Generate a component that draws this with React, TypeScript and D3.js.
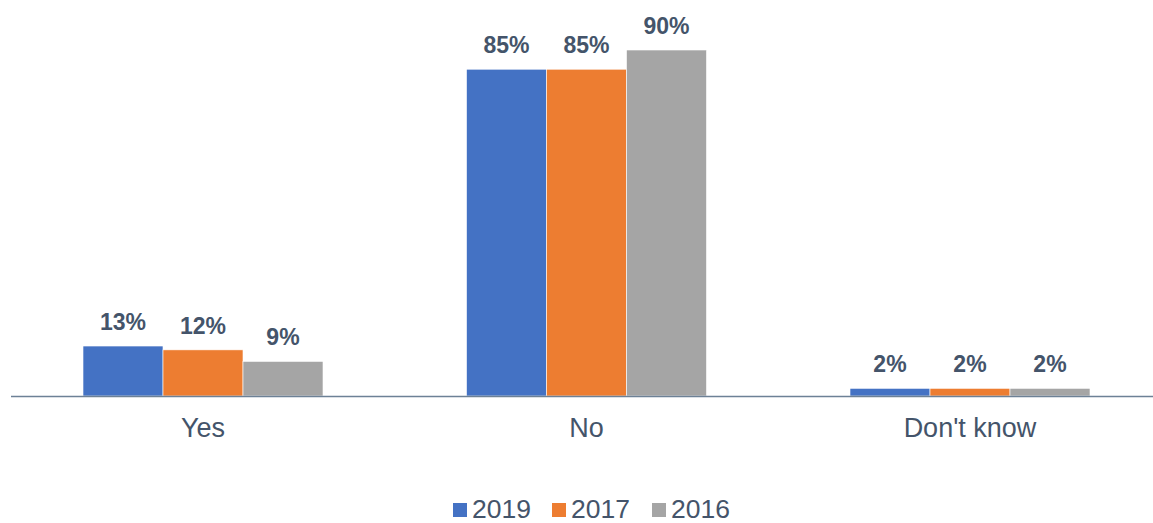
import { useRef, useEffect } from 'react';
import * as d3 from 'd3';

const categories = ['Yes', 'No', "Don't know"];
const seriesNames = ['2019', '2017', '2016'];
const values2019 = [13, 85, 2];
const values2017 = [12, 85, 2];
const values2016 = [9, 90, 2];
const colors = ['#4472c4', '#ed7d31', '#a5a5a5'];

export default function App() {
  const svgRef = useRef<SVGSVGElement>(null);

  useEffect(() => {
    if (!svgRef.current) return;
    const el = svgRef.current;
    d3.select(el).selectAll('*').remove();
    const svg = d3.select(el);

    const W = 1153;
    const baseline = 396;
    const textColor = '#44546a';
    const font = '"Liberation Sans", Arial, sans-serif';

    const series = [values2019, values2017, values2016];

    const x0 = d3.scaleBand<string>().domain(categories).range([11.25, 1161.75])
      .paddingInner(0.3742).paddingOuter(0.1871);
    const x1 = d3.scaleBand<string>().domain(seriesNames).range([0, x0.bandwidth()]).padding(0);
    const y = d3.scaleLinear().domain([0, 90]).range([baseline, 50]);

    // bars
    categories.forEach((cat, ci) => {
      const g = svg.append('g').attr('transform', `translate(${x0(cat)},0)`);
      seriesNames.forEach((s, si) => {
        const v = series[si][ci];
        const bx = x1(s) ?? 0;
        g.append('rect')
          .attr('x', bx).attr('y', y(v))
          .attr('width', x1.bandwidth()).attr('height', baseline - y(v))
          .attr('fill', colors[si])
          .attr('stroke', '#ffffff').attr('stroke-width', 0.6);
        g.append('text')
          .attr('x', bx + x1.bandwidth() / 2).attr('y', y(v) - 16)
          .attr('text-anchor', 'middle')
          .attr('font-family', font).attr('font-size', 23).attr('font-weight', 700)
          .attr('fill', textColor)
          .text(`${v}%`);
      });
    });

    // axis
    svg.append('line')
      .attr('x1', 11).attr('x2', W)
      .attr('y1', baseline + 0.5).attr('y2', baseline + 0.5)
      .attr('stroke', '#6d8196').attr('stroke-width', 1.5);

    categories.forEach((cat) => {
      svg.append('text')
        .attr('x', (x0(cat) ?? 0) + x0.bandwidth() / 2).attr('y', 437)
        .attr('text-anchor', 'middle')
        .attr('font-family', font).attr('font-size', 27)
        .attr('fill', textColor)
        .text(cat);
    });

    // legend
    const legendX = [452, 551, 651];
    seriesNames.forEach((s, i) => {
      svg.append('rect')
        .attr('x', legendX[i] + 1).attr('y', 503)
        .attr('width', 14).attr('height', 14)
        .attr('fill', colors[i]);
      svg.append('text')
        .attr('x', legendX[i] + 20).attr('y', 518)
        .attr('font-family', font).attr('font-size', 26.5)
        .attr('fill', textColor)
        .text(s);
    });
  }, []);

  return (
    <svg
      ref={svgRef}
      width={1153}
      height={523}
      style={{ position: 'absolute', left: 0, top: 0, background: '#ffffff' }}
    />
  );
}
